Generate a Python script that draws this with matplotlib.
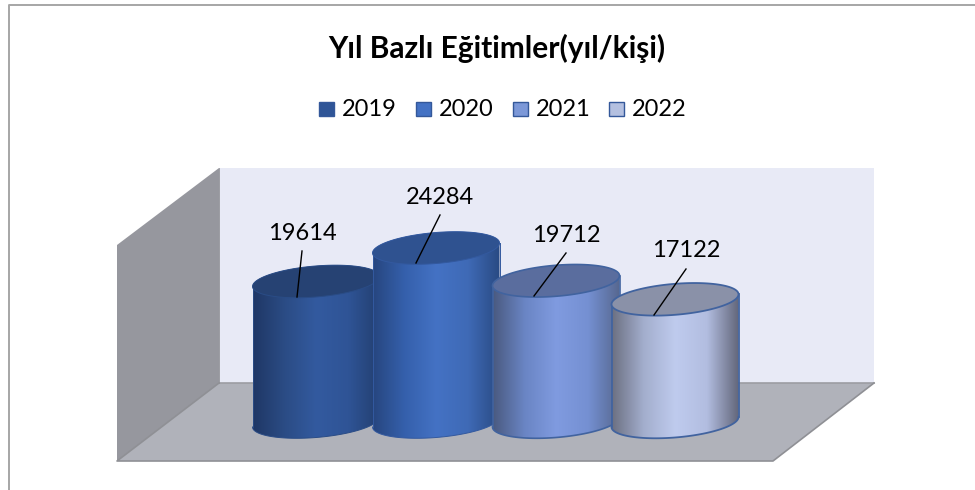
import numpy as np
import matplotlib
matplotlib.use("Agg")
import matplotlib.pyplot as plt
from matplotlib.colors import LinearSegmentedColormap
from matplotlib.patches import Polygon, PathPatch, Rectangle
from matplotlib.path import Path

# Datos del grafico
years = ["2019", "2020", "2021", "2022"]
values = [19614, 24284, 19712, 17122]

title = "Yıl Bazlı Eğitimler(yıl/kişi)"

# Colores de cada cilindro (izquierda -> derecha)
side_colors = [
    ["#1f3765", "#2b4c85", "#335a9f", "#2f5496", "#233f70"],
    ["#27467f", "#3560ac", "#4472c4", "#3f6ab6", "#294a83"],
    ["#4a5a80", "#6a85c4", "#809be0", "#7590d2", "#56678f"],
    ["#6c7082", "#a3aecd", "#bfcbee", "#b2bde0", "#62667a"],
]
top_colors = ["#264273", "#2f5290", "#5a6d9e", "#8a91a8"]
edge_colors = ["#2a4c86", "#33599f", "#41639f", "#41639f"]
legend_colors = ["#2f5597", "#4472c4", "#7c98d8", "#b4c0e0"]
edge_widths = [0.7, 0.7, 1.2, 1.3]

# Geometria en pixeles
base_y = 422
px_per_unit = 174 / 24284
centers = [316, 436, 556, 675]
half_w = 63.5
half_h = 15.5
tilt = np.radians(-4.5)

label_pos = [(302, 233), (440, 197), (566, 235), (686, 250)]
leaders = [((302, 251), (297, 297)), ((440, 215), (416, 263)),
           ((566, 253), (534, 296)), ((686, 269), (654, 315))]
legend_x = [319, 416, 513, 609]


def ellipse(cx, cy, t):
    # elipse inclinada, el lado derecho queda mas arriba
    x = cx + half_w * np.cos(t)
    y = cy + half_h * np.sin(t) + half_w * np.cos(t) * np.tan(tilt)
    return x, y


plt.rcParams["font.family"] = ["Lato", "DejaVu Sans"]
fig = plt.figure(figsize=(9.75, 4.9), dpi=100)
ax = fig.add_axes([0, 0, 1, 1])
ax.set_xlim(0, 975)
ax.set_ylim(490, 0)
ax.axis("off")

# Marco
ax.plot([9, 9, 975], [490, 5, 5], color="#a6a6a6", lw=1.4)

# Paredes y piso
ax.add_patch(Polygon([(219, 168), (874, 168), (874, 383), (219, 383)], fc="#e8eaf6", ec="none"))
ax.add_patch(Polygon([(117, 245), (219, 168), (219, 383), (117, 461)], fc="#96979e", ec="none"))
ax.add_patch(Polygon([(219, 383), (874, 383), (773, 461), (117, 461)], fc="#b0b2ba", ec="none"))
ax.plot([219, 874], [383, 383], color="#9c9da3", lw=1.2)
ax.plot([874, 773, 117, 219], [383, 461, 461, 383], color="#8f9095", lw=1.2)
ax.plot([219, 219], [168, 383], color="#8f9095", lw=0.6)

# Cilindros
for i, v in enumerate(values):
    cx = centers[i]
    top_y = base_y - v * px_per_unit
    t = np.linspace(0, np.pi, 80)
    bx, by = ellipse(cx, base_y, t)
    tx, ty = ellipse(cx, top_y, np.pi + t)
    verts = np.column_stack([np.concatenate([bx, tx]), np.concatenate([by, ty])])
    body = Path(np.vstack([verts, verts[0]]), closed=True)

    cmap = LinearSegmentedColormap.from_list("lado%d" % i, side_colors[i])
    grad = np.linspace(0, 1, 256).reshape(1, -1)
    im = ax.imshow(grad, cmap=cmap, aspect="auto", zorder=2 + i,
                   extent=(cx - half_w, cx + half_w, base_y + 30, top_y - 30))
    patch = PathPatch(body, fc="none", ec="none", transform=ax.transData)
    ax.add_patch(patch)
    im.set_clip_path(patch)

    # borde del cuerpo
    ax.plot(bx, by, color=edge_colors[i], lw=edge_widths[i], zorder=2 + i)
    lx, ly = ellipse(cx, top_y, np.array([np.pi, 0]))
    lbx, lby = ellipse(cx, base_y, np.array([np.pi, 0]))
    ax.plot([lx[0], lbx[0]], [ly[0], lby[0]], color=edge_colors[i], lw=edge_widths[i], zorder=2 + i)
    ax.plot([lx[1], lbx[1]], [ly[1], lby[1]], color=edge_colors[i], lw=edge_widths[i], zorder=2 + i)

    # tapa superior
    t_all = np.linspace(0, 2 * np.pi, 160)
    ex, ey = ellipse(cx, top_y, t_all)
    ax.add_patch(Polygon(np.column_stack([ex, ey]), fc=top_colors[i], ec=edge_colors[i],
                         lw=edge_widths[i], zorder=2 + i))

ax.set_xlim(0, 975)
ax.set_ylim(490, 0)

# Etiquetas con lineas guia
for i, v in enumerate(values):
    ax.text(label_pos[i][0], label_pos[i][1], str(v), fontsize=17, color="black",
            ha="center", va="center", zorder=10)
    (x0, y0), (x1, y1) = leaders[i]
    ax.plot([x0, x1], [y0, y1], color="black", lw=1.0, zorder=10)

# Titulo y leyenda
ax.text(497, 48, title, fontsize=21.5, fontweight="bold", color="black",
        ha="center", va="center", zorder=10)
for i, y in enumerate(years):
    ax.add_patch(Rectangle((legend_x[i], 102), 15, 14, fc=legend_colors[i], ec="#34589a",
                           lw=1.0, zorder=10))
    ax.text(legend_x[i] + 23, 109, y, fontsize=17, color="black", ha="left",
            va="center", zorder=10)

fig.savefig("out.png", dpi=100)
